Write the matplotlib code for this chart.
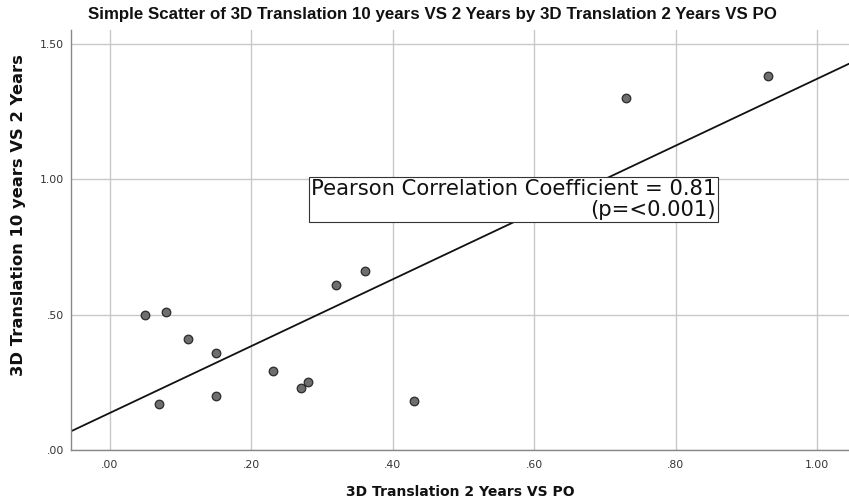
import numpy as np
import matplotlib
matplotlib.use("Agg")
import matplotlib.pyplot as plt

# values
trans_2y_vs_po = [0.05, 0.08, 0.11, 0.15, 0.07, 0.15, 0.23, 0.27, 0.28, 0.32, 0.36, 0.43, 0.73, 0.93]
trans_10y_vs_2y = [0.50, 0.51, 0.41, 0.36, 0.17, 0.20, 0.29, 0.23, 0.25, 0.61, 0.66, 0.18, 1.30, 1.38]

x_ticks = [0.0, 0.2, 0.4, 0.6, 0.8, 1.0]
x_tick_labels = [".00", ".20", ".40", ".60", ".80", "1.00"]
y_ticks = [0.0, 0.5, 1.0, 1.5]
y_tick_labels = [".00", ".50", "1.00", "1.50"]

title = "Simple Scatter of 3D Translation 10 years VS 2 Years by 3D Translation 2 Years VS PO"
x_label = "3D Translation 2 Years VS PO"
y_label = "3D Translation 10 years VS 2 Years"
note = "Pearson Correlation Coefficient = 0.81\n(p=<0.001)"

fig = plt.figure(figsize=(8.49, 5.03), dpi=100)
ax = fig.add_axes([71 / 849, 1 - 450 / 503, (849 - 71) / 849, 420 / 503])

x_min, x_max = -0.055, 1.045
ax.set_xlim(x_min, x_max)
ax.set_ylim(0, 1.551)

ax.grid(True, color="#c8c8c8", linewidth=1.0)
ax.set_axisbelow(True)

# linear fit line across the whole x range
slope, intercept = np.polyfit(trans_2y_vs_po, trans_10y_vs_2y, 1)
xs = np.array([x_min, x_max])
ax.plot(xs, slope * xs + intercept, color="#111111", linewidth=1.3, zorder=2)

ax.scatter(trans_2y_vs_po, trans_10y_vs_2y, s=38, facecolor="#6e6e6e",
           edgecolor="#2a2a2a", linewidth=0.9, zorder=3)

ax.set_xticks(x_ticks)
ax.set_xticklabels(x_tick_labels)
ax.set_yticks(y_ticks)
ax.set_yticklabels(y_tick_labels)
ax.tick_params(axis="both", length=0, labelsize=7.8, labelcolor="#333333")
ax.tick_params(axis="x", pad=7)
ax.tick_params(axis="y", pad=5)

for side in ["top", "right"]:
    ax.spines[side].set_visible(False)
for side in ["left", "bottom"]:
    ax.spines[side].set_color("#888888")
    ax.spines[side].set_linewidth(1.0)

ax.text((716 - 110) / 707, (450 - 199.5) / 270.7, note, ha="right", va="center",
        multialignment="right", fontsize=15.2, linespacing=1.1, color="#111111",
        bbox=dict(boxstyle="square,pad=0.1", facecolor="white", edgecolor="#333333", linewidth=0.8),
        zorder=4)

fig.text(432 / 849, 1 - 15 / 503, title, ha="center", va="center", fontsize=12.2,
         fontweight="bold", family=["Liberation Sans", "DejaVu Sans"], color="#111111")
fig.text(460 / 849, 1 - 492 / 503, x_label, ha="center", va="center", fontsize=10,
         fontweight="bold", color="#111111")
fig.text(19 / 849, 1 - 215 / 503, y_label, ha="center", va="center", rotation=90,
         fontsize=11.8, fontweight="bold", color="#111111")

fig.savefig("out.png", dpi=100)
